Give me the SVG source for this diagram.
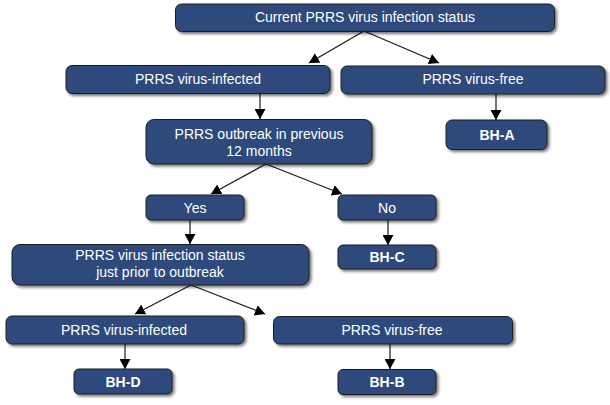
<svg xmlns="http://www.w3.org/2000/svg" width="610" height="405" viewBox="0 0 610 405">
<defs>
<filter id="sh" x="-10%" y="-30%" width="120%" height="170%">
<feGaussianBlur in="SourceAlpha" stdDeviation="1.5"/>
<feOffset dx="2" dy="2" result="b"/>
<feComponentTransfer><feFuncA type="linear" slope="0.55"/></feComponentTransfer>
<feMerge><feMergeNode/><feMergeNode in="SourceGraphic"/></feMerge>
</filter>
<marker id="ah" viewBox="0 0 10 11" refX="10" refY="5.5" markerWidth="10" markerHeight="11" markerUnits="userSpaceOnUse" orient="auto">
<path d="M0,0 L10,5.5 L0,11 z" fill="#000"/>
</marker>
</defs>
<style>
.box{fill:#2d4a7b;stroke:#1e1e1e;stroke-width:1;filter:url(#sh)}
.t{font-family:"Liberation Sans",Arial,sans-serif;font-size:14px;fill:#fff;text-anchor:middle}
.b{font-weight:bold}
.c{stroke:#1a1a1a;stroke-width:1.2;fill:none;marker-end:url(#ah)}
</style>
<rect width="610" height="405" fill="#fff"/>
<g id="connectors">
<line class="c" x1="364" y1="31" x2="309" y2="63"/>
<line class="c" x1="364" y1="31" x2="439" y2="63"/>
<line class="c" x1="260" y1="93" x2="260" y2="119"/>
<line class="c" x1="496" y1="94" x2="496" y2="120"/>
<line class="c" x1="266" y1="164" x2="211" y2="194"/>
<line class="c" x1="266" y1="164" x2="342" y2="194"/>
<line class="c" x1="190" y1="220" x2="190" y2="244"/>
<line class="c" x1="388" y1="220" x2="388" y2="245"/>
<line class="c" x1="191" y1="285" x2="135" y2="314"/>
<line class="c" x1="191" y1="285" x2="265" y2="314"/>
<line class="c" x1="125" y1="344" x2="125" y2="369"/>
<line class="c" x1="390" y1="344" x2="390" y2="369"/>
</g>
<g id="n-current"><rect class="box" x="175.5" y="4" width="379" height="27.5" rx="6"/><text class="t" x="365" y="22">Current PRRS virus infection status</text></g>
<g id="n-infected"><rect class="box" x="66" y="65.5" width="264" height="28" rx="6"/><text class="t" x="198" y="84">PRRS virus-infected</text></g>
<g id="n-free"><rect class="box" x="341" y="66" width="264" height="28" rx="6"/><text class="t" x="473" y="84">PRRS virus-free</text></g>
<g id="n-bha"><rect class="box" x="446" y="120" width="101" height="29.5" rx="6"/><text class="t b" x="497" y="140">BH-A</text></g>
<g id="n-outbreak"><rect class="box" x="146" y="119.5" width="226" height="44.5" rx="8"/><text class="t" x="259" y="139">PRRS outbreak in previous</text><text class="t" x="259" y="156">12 months</text></g>
<g id="n-yes"><rect class="box" x="146" y="195" width="98" height="25" rx="5"/><text class="t" x="195" y="213">Yes</text></g>
<g id="n-no"><rect class="box" x="338" y="195" width="98" height="25" rx="5"/><text class="t" x="387" y="213">No</text></g>
<g id="n-bhc"><rect class="box" x="338" y="245" width="98" height="24" rx="5"/><text class="t b" x="387" y="262">BH-C</text></g>
<g id="n-status"><rect class="box" x="12" y="244.5" width="297" height="40.5" rx="8"/><text class="t" x="160" y="260">PRRS virus infection status</text><text class="t" x="160" y="277">just prior to outbreak</text></g>
<g id="n-infected2"><rect class="box" x="6" y="316" width="238" height="28" rx="6"/><text class="t" x="124" y="335">PRRS virus-infected</text></g>
<g id="n-bhd"><rect class="box" x="74" y="369" width="98" height="25" rx="5"/><text class="t b" x="123" y="387">BH-D</text></g>
<g id="n-free2"><rect class="box" x="273.5" y="316.5" width="239" height="27.5" rx="6"/><text class="t" x="392" y="335">PRRS virus-free</text></g>
<g id="n-bhb"><rect class="box" x="338" y="369.5" width="98" height="25" rx="5"/><text class="t b" x="387" y="387">BH-B</text></g>
</svg>
